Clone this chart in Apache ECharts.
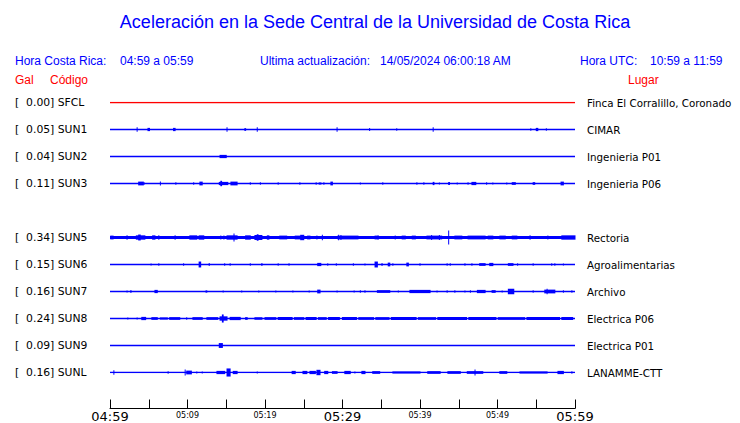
<!DOCTYPE html>
<html><head><meta charset="utf-8">
<script src="https://cdn.jsdelivr.net/npm/echarts@6/dist/echarts.min.js"></script>
<style>html,body{margin:0;padding:0;background:#fff}#c{width:740px;height:423px}</style>
</head><body><div id="c"></div>
<script>
// ---- data ----
const codes  = ['SFCL','SUN1','SUN2','SUN3','','SUN5','SUN6','SUN7','SUN8','SUN9','SUNL'];
const peaks  = [0.00, 0.05, 0.04, 0.11, null, 0.34, 0.15, 0.16, 0.24, 0.09, 0.16];
const places = ['Finca El Corralillo, Coronado','CIMAR','Ingenieria P01','Ingenieria P06','','Rectoria','Agroalimentarias','Archivo','Electrica P06','Electrica P01','LANAMME-CTT'];
const timeRange = [0, 60]; // minutes after 04:59
const tickLabels = ['04:59','','05:09','','05:19','','05:29','','05:39','','05:49','','05:59'];
// events: [startMinute, endMinute, relative amplitude]
const evSFCL = [];
const evSUN1 = [[3.5,3.5,0.08],[4.9,5.1,0.06],[8.2,8.4,0.06],[15.1,15.1,0.08],[17.4,17.5,0.05],[19.0,19.0,0.08],[29.3,29.3,0.08],[33.5,33.5,0.06],[37.0,37.0,0.05],[41.7,41.7,0.08],[54.3,54.3,0.05],[55.0,55.2,0.06],[56.3,56.3,0.05]];
const evSUN2 = [[14.2,15.0,0.06]];
const evSUN3 = [[3.7,4.3,0.07],[4.4,4.4,0.05],[6.5,6.5,0.07],[8.5,8.5,0.05],[10.8,10.8,0.05],[11.6,11.9,0.07],[14.1,15.2,0.06],[14.3,14.4,0.1],[15.6,16.4,0.07],[18.1,18.1,0.05],[19.4,19.4,0.05],[21.7,21.7,0.05],[24.5,24.5,0.05],[26.6,26.6,0.05],[27.0,27.0,0.05],[27.2,27.2,0.05],[27.6,27.6,0.05],[28.5,28.7,0.07],[32.3,32.3,0.04],[35.2,35.2,0.05],[39.6,39.6,0.05],[40.5,40.5,0.05],[41.7,41.8,0.06],[42.5,42.5,0.04],[43.7,43.8,0.06],[44.8,44.8,0.04],[46.2,46.2,0.05],[46.7,47.2,0.06],[48.6,48.6,0.05],[49.4,49.4,0.04],[51.2,51.2,0.04],[51.9,52.3,0.05],[54.6,54.8,0.05],[58.2,58.5,0.07]];
const evSUN5 = [[0.1,0.4,0.07],[2.2,2.2,0.08],[3.4,4.5,0.08],[3.7,3.9,0.11],[5.5,5.8,0.08],[6.3,6.3,0.08],[8.4,8.4,0.08],[10.3,11.2,0.08],[11.5,12.1,0.08],[14.3,14.3,0.07],[14.7,14.7,0.07],[15.1,16.4,0.08],[16.0,16.0,0.15],[17.5,18.1,0.08],[18.7,19.6,0.09],[19.0,19.1,0.12],[20.3,20.5,0.08],[21.9,22.8,0.07],[23.9,24.5,0.07],[24.6,25.0,0.1],[25.5,25.8,0.07],[26.7,26.7,0.07],[27.4,27.4,0.1],[29.4,32.0,0.07],[29.5,29.5,0.1],[29.8,29.8,0.09],[34.2,34.5,0.07],[34.6,34.6,0.08],[36.8,36.8,0.07],[37.7,38.1,0.07],[39.0,39.4,0.07],[40.9,42.8,0.07],[41.5,41.5,0.09],[42.5,42.5,0.09],[43.7,43.7,0.26],[44.5,45.4,0.07],[46.2,48.4,0.07],[48.8,49.4,0.07],[50.3,51.0,0.07],[51.9,52.5,0.07],[54.2,54.2,0.08],[56.5,56.5,0.07],[58.3,60,0.08]];
const evSUN6 = [[5.3,5.3,0.04],[6.3,6.3,0.05],[9.5,9.5,0.05],[11.5,11.7,0.11],[12.8,12.8,0.06],[14.8,14.8,0.05],[15.5,15.5,0.05],[18.1,18.1,0.05],[19.6,19.6,0.06],[21.7,21.7,0.05],[23.1,23.1,0.05],[26.8,27.2,0.06],[28.1,28.1,0.05],[29.2,29.2,0.05],[31.4,31.4,0.05],[32.9,32.9,0.04],[34.2,34.5,0.11],[35.1,35.1,0.06],[35.9,36.1,0.07],[36.5,36.5,0.05],[38.3,38.5,0.07],[40.0,40.0,0.05],[43.5,43.5,0.05],[43.9,43.9,0.05],[45.8,45.8,0.05],[46.7,46.7,0.05],[47.7,48.4,0.05],[49.0,49.4,0.06],[51.4,52.0,0.05],[52.6,52.6,0.05],[54.6,54.6,0.05],[57.0,57.0,0.05],[57.4,57.4,0.05],[58.5,58.5,0.04]];
const evSUN7 = [[2.2,2.2,0.04],[2.7,2.7,0.06],[5.8,6.1,0.06],[12.4,12.4,0.05],[12.5,12.5,0.04],[14.6,14.6,0.04],[17.0,17.0,0.04],[19.2,19.2,0.04],[21.4,21.4,0.04],[23.6,23.6,0.04],[25.7,25.7,0.04],[26.8,27.1,0.07],[29.3,29.3,0.04],[31.5,31.5,0.04],[32.3,32.3,0.05],[32.9,32.9,0.05],[34.5,36.1,0.05],[37.2,37.2,0.04],[38.7,41.3,0.06],[42.2,42.2,0.04],[43.5,43.5,0.05],[44.5,44.5,0.05],[45.8,45.8,0.04],[46.5,46.5,0.05],[47.4,48.4,0.06],[49.3,49.7,0.05],[50.6,50.6,0.04],[51.4,52.1,0.1],[54.6,54.6,0.05],[56.1,57.4,0.07],[56.4,56.4,0.1],[58.5,58.5,0.05],[59.6,59.6,0.05]];
const evSUN8 = [[2.3,2.3,0.04],[3.5,3.5,0.04],[4.1,4.6,0.06],[5.4,6.1,0.05],[6.5,7.4,0.04],[7.7,9.0,0.05],[9.9,9.9,0.05],[10.7,11.9,0.05],[12.5,13.9,0.05],[14.2,15.1,0.08],[14.5,14.6,0.15],[15.5,16.8,0.06],[17.5,17.7,0.05],[18.7,19.6,0.05],[20.0,21.4,0.05],[21.7,23.5,0.055],[23.8,25.0,0.05],[25.3,26.6,0.055],[26.9,27.9,0.05],[28.2,29.6,0.055],[30.0,31.8,0.055],[32.1,34.0,0.05],[34.3,36.0,0.05],[36.3,39.5,0.055],[39.8,42.0,0.05],[42.3,46.0,0.055],[46.3,49.8,0.055],[50.1,53.5,0.05],[53.8,58.0,0.055],[58.3,59.7,0.055]];
const evSUN9 = [[14.1,14.5,0.09]];
const evSUNL = [[0.5,0.5,0.08],[7.5,7.5,0.05],[9.7,9.7,0.11],[9.9,10.5,0.07],[11.2,11.2,0.04],[11.9,11.9,0.04],[13.8,14.8,0.06],[15.1,15.5,0.15],[15.9,16.4,0.06],[19.0,19.0,0.04],[23.5,23.9,0.06],[24.9,25.4,0.06],[25.8,26.5,0.06],[26.7,27.1,0.1],[27.7,28.1,0.06],[28.7,29.3,0.05],[30.3,31.0,0.06],[31.6,31.6,0.04],[32.5,32.9,0.06],[33.9,34.8,0.05],[36.5,40.0,0.04],[41.0,42.6,0.05],[43.6,45.2,0.05],[46.1,48.1,0.05],[47.1,47.1,0.11],[50.3,51.2,0.05],[52.9,56.4,0.04],[57.8,58.5,0.06],[59.6,59.6,0.05]];
const events = [evSFCL, evSUN1, evSUN2, evSUN3, null, evSUN5, evSUN6, evSUN7, evSUN8, evSUN9, evSUNL];

// ---- chart ----
const BLUE = '#0000ff', RED = '#ff0000';
const lineColors = codes.map((c,i)=> i===0 ? RED : BLUE);
const lineWidths = codes.map(c => c==='SUN5' ? 3 : 1.4);
const chart = echarts.init(document.getElementById('c'), null, {renderer:'svg'});

const series = [];
codes.forEach((c,i)=>{
  if(!c) return;
  series.push({type:'line', silent:true, symbol:'none', animation:false,
    data: timeRange.map(t=>[t,i]), lineStyle:{color:lineColors[i], width:lineWidths[i]}});
  const ev = events[i];
  if(ev && ev.length){
    series.push({type:'custom', silent:true, animation:false,
      data: ev.map(e=>[e[0], e[1], i, e[2]]),
      encode:{x:[0,1], y:2},
      renderItem:(params, api)=>{
        const p1 = api.coord([api.value(0), api.value(2)]);
        const p2 = api.coord([api.value(1), api.value(2)]);
        const h = api.size([0, api.value(3)])[1];
        return {type:'rect', shape:{x:p1[0]-0.5, y:p1[1]-h, width:Math.max(p2[0]-p1[0],0)+1, height:2*h},
          style:{fill:lineColors[i]}};
      }});
  }
});

const leftLabels = codes.map((c,i)=> c ? '[  ' + peaks[i].toFixed(2) + '] ' + c : '');
const txt = (x,y,text,color)=>({type:'text', x, y, silent:true,
  style:{text, fill:color, font:'12px "Liberation Sans"', textVerticalAlign:'middle'}});

chart.setOption({
  animation:false,
  backgroundColor:'#fff',
  grid:{left:110, right:165, top:102.5, bottom:50.5, outerBoundsMode:'none', containLabel:false},
  xAxis:{type:'value', min:timeRange[0], max:timeRange[1], interval:5, offset:36, position:'bottom',
    axisLine:{onZero:false, lineStyle:{color:'#000', width:1}},
    axisTick:{inside:true, length:9, lineStyle:{color:'#000'}},
    splitLine:{show:false},
    axisLabel:{margin:2, color:'#000', fontFamily:'DejaVu Sans', fontWeight:'normal',
      formatter:(v)=>{const s=tickLabels[Math.round(v/5)]||''; if(!s) return ''; return (Math.round(v)%30===0) ? '{b|'+s+'}' : '{s|'+s+'}';},
      rich:{b:{fontSize:13, lineHeight:12, fontFamily:'DejaVu Sans', fontWeight:'normal', color:'#000'}, s:{fontSize:8, lineHeight:10, fontFamily:'DejaVu Sans', fontWeight:'normal', color:'#000'}}}},
  yAxis:[
    {type:'value', min:0, max:10, interval:1, inverse:true,
      axisLine:{show:false}, axisTick:{show:false}, splitLine:{show:false},
      axisLabel:{align:'left', margin:95, color:'#000', fontFamily:'DejaVu Sans', fontSize:10.8,
        formatter:(v)=>leftLabels[Math.round(v)]||''}},
    {type:'value', min:0, max:10, interval:1, inverse:true, position:'right',
      axisLine:{show:false}, axisTick:{show:false}, splitLine:{show:false},
      axisLabel:{align:'left', margin:12, color:'#000', fontFamily:'DejaVu Sans', fontSize:10.3,
        formatter:(v)=>places[Math.round(v)]||''}}
  ],
  graphic:[
    {type:'text', x:375, y:22, silent:true, style:{text:'Aceleración en la Sede Central de la Universidad de Costa Rica', fill:BLUE, font:'18px "Liberation Sans"', textAlign:'center', textVerticalAlign:'middle'}},
    txt(15,61,'Hora Costa Rica:',BLUE),
    txt(120,61,'04:59 a 05:59',BLUE),
    txt(260,61,'Ultima actualización:',BLUE),
    txt(380,61,'14/05/2024 06:00:18 AM',BLUE),
    txt(580,61,'Hora UTC:',BLUE),
    txt(650,61,'10:59 a 11:59',BLUE),
    txt(15,80,'Gal',RED),
    txt(50,80,'Código',RED),
    txt(628,80,'Lugar',RED)
  ],
  series
});
</script></body></html>
